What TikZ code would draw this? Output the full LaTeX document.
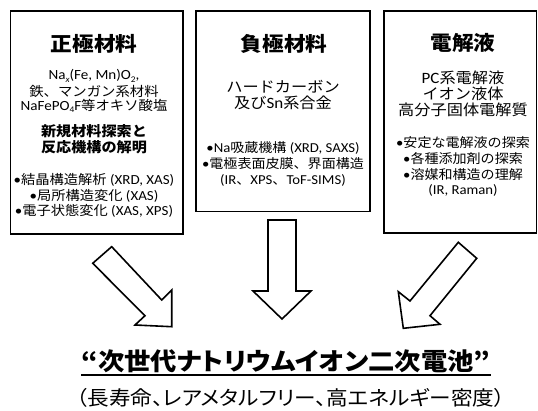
\documentclass[tikz,border=0pt]{standalone}
\usepackage{graphicx}
\usepackage{fontspec}
\setmainfont{Noto Sans CJK JP}[FakeStretch=1.08]
\newfontfamily\cjkp{Noto Sans CJK JP}[FakeStretch=1.08, RawFeature=+palt]
\newfontfamily\lat{Carlito}[FakeStretch=1.08, Scale=1.05]
\newcommand\fs[2]{\fontsize{#1}{#2}\selectfont}
\newcommand\sbs[1]{\raisebox{-0.4ex}{\scalebox{0.62}{#1}}}
\tikzset{
  box/.style={draw, line width=1.6pt, fill=white, inner sep=0pt},
  bigarrow/.style={draw, line width=1.6pt, fill=white, line join=miter},
  txt/.style={align=center, inner sep=0pt, text=black},
}
\begin{document}
\begin{tikzpicture}[x=1pt, y=-1pt]
\useasboundingbox (0,0) rectangle (538,411);
% boxes
\node[box, minimum width=172.5pt, minimum height=223pt] (b1) at (96.75,122.5) {};
\node[box, minimum width=174pt, minimum height=200.5pt] (b2) at (283,111.25) {};
\node[box, minimum width=152.5pt, minimum height=222pt] (b3) at (460.25,122) {};
% box 1 text
\node[txt, font=\fs{20}{24}\bfseries] (t1) at (94,44) {正極材料};
\node[txt, font=\fs{13.3}{14}] (t1a1) at (94,76) {{\lat Na\sbs{\itshape x}(Fe, Mn)O\sbs{2},}};
\node[txt, font=\fs{13.3}{14}] (t1a2) at (94,91) {鉄、マンガン系材料};
\node[txt, font=\fs{13.3}{14}] (t1a3) at (94,106) {{\lat NaFePO\sbs{4}F}等オキソ酸塩};
\node[txt, font=\fs{14}{16}\bfseries] (t1b) at (94,139) {新規材料探索と\\反応機構の解明};
\node[txt, font=\fs{13.2}{15.5}] (t1c) at (94,195.5) {{\lat •}結晶構造解析{\lat\ (XRD, XAS)}\\{\lat •}局所構造変化{\lat\ (XAS)}\\{\lat •}電子状態変化{\lat\ (XAS, XPS)}};
% box 2 text
\node[txt, font=\fs{20}{24}\bfseries] (t2) at (284,44) {負極材料};
\node[txt, font=\fs{15}{16}] (t2a) at (283,95) {ハードカーボン\\及び{\lat Sn}系合金};
\node[txt, font=\fs{13}{16}] (t2b) at (283,164) {{\lat •Na}吸蔵機構{\lat\ (XRD, SAXS)}\\{\lat •}電極表面皮膜、界面構造\\{\lat (IR}、{\lat XPS}、{\lat ToF-SIMS)}};
% box 3 text
\node[txt, font=\fs{15}{16}] (t3a) at (463,94) {{\lat PC}系電解液\\イオン液体\\高分子固体電解質};
\node[txt, font=\fs{20}{24}\bfseries] (t3) at (463,43) {電解液};
\node[txt, font=\fs{13}{15.7}] (t3b) at (463,166.75) {{\lat •}安定な電解液の探索\\{\lat •}各種添加剤の探索\\{\lat •}溶媒和構造の理解\\{\lat (IR, Raman)}};
% arrows
\draw[bigarrow] (111.7,246.7) -- (161.7,300) -- (171.7,290) -- (171.7,326.7) -- (135,325) -- (145,315.7) -- (92.7,263.3) -- cycle;
\draw[bigarrow] (268,220) -- (296,220) -- (296,291) -- (311,291) -- (282,319) -- (253,291) -- (268,291) -- cycle;
\draw[bigarrow] (458.3,242.3) -- (410,301) -- (398.3,291.7) -- (403.3,328.3) -- (440,324.3) -- (430,315.7) -- (476.7,258.3) -- cycle;
% bottom text
\node[txt, font=\cjkp\fs{24.4}{25}\bfseries] (tt) at (286,361) {“次世代ナトリウムイオン二次電池”};
\draw[line width=1.6pt] ([yshift=-5pt]tt.base west) -- ([yshift=-5pt]tt.base east);
\node[txt, font=\cjkp\fs{20}{20}] (ts) at (291,398) {（長寿命、レアメタルフリー、高エネルギー密度）};
\end{tikzpicture}
\end{document}
